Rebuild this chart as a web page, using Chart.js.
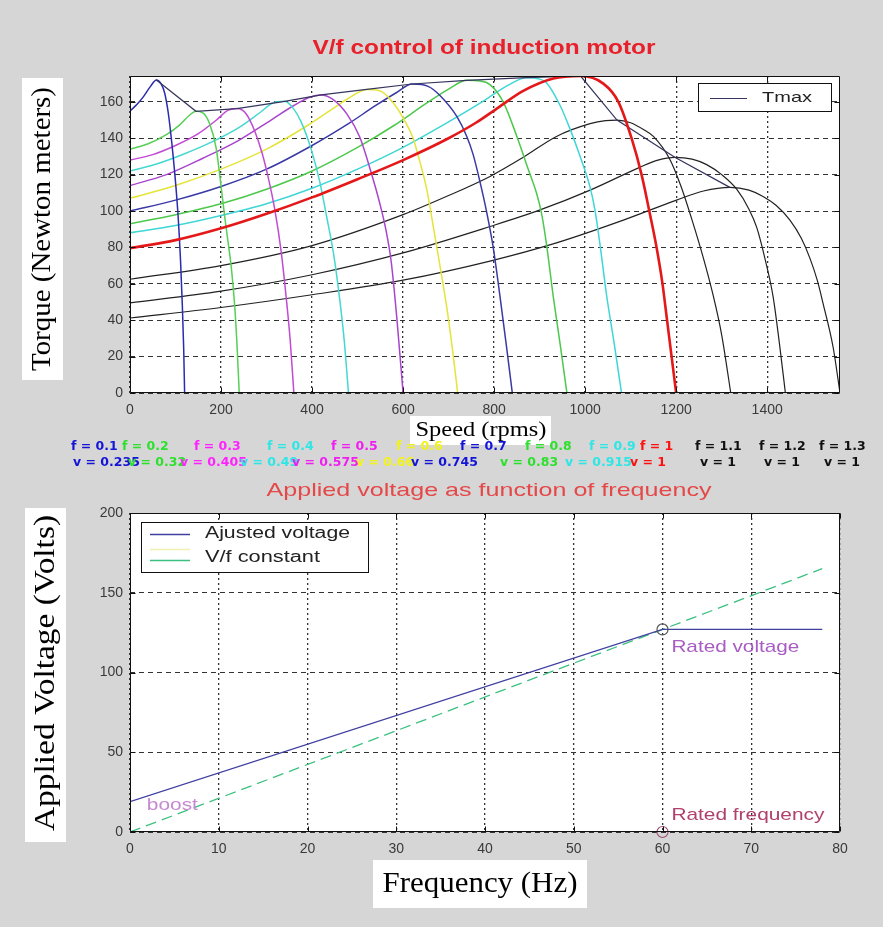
<!DOCTYPE html>
<html>
<head>
<meta charset="utf-8">
<script src="https://cdn.jsdelivr.net/npm/chart.js@4.4.1/dist/chart.umd.min.js"></script>
<style>
  html, body { margin: 0; padding: 0; background: #d6d6d6; }
  #wrap { position: relative; width: 883px; height: 927px; overflow: hidden; background: #d6d6d6; }
  canvas { position: absolute; left: 0; }
  #torqueChart { top: 0; }
  #voltChart { top: 470px; }
</style>
</head>
<body>
<div id="wrap">
  <canvas id="torqueChart" width="883" height="470" style="width:883px;height:470px"></canvas>
  <canvas id="voltChart" width="883" height="457" style="width:883px;height:457px"></canvas>
</div>
<script>
// ---- Axis ticks ----
const speedTicks  = [0, 200, 400, 600, 800, 1000, 1200, 1400];
const torqueTicks = [0, 20, 40, 60, 80, 100, 120, 140, 160];
const freqTicks   = [0, 10, 20, 30, 40, 50, 60, 70, 80];
const voltTicks   = [0, 50, 100, 150, 200];

// ---- Per-curve annotations (frequency and voltage ratios) ----
const freqLabels = ['f = 0.1', 'f = 0.2', 'f = 0.3', 'f = 0.4', 'f = 0.5', 'f = 0.6', 'f = 0.7',
                    'f = 0.8', 'f = 0.9', 'f = 1', 'f = 1.1', 'f = 1.2', 'f = 1.3'];
const voltLabels = ['v = 0.235', 'v = 0.32', 'v = 0.405', 'v = 0.49', 'v = 0.575', 'v = 0.66', 'v = 0.745',
                    'v = 0.83', 'v = 0.915', 'v = 1', 'v = 1', 'v = 1', 'v = 1'];

// ---- Torque-speed curves: [speed (rpm), torque (N.m)] ----
const torqueF01 = [[0,155],[15,158.5],[30,163],[45,168.5],[58,172],[68,170],[76,165],[84,154],[92,137],[100,116],[106,96],[111,73],[115,48],[118,24],[120,0]];
const torqueF02 = [[0,134],[40,137],[80,142],[110,147.5],[130,152.5],[145,154.8],[160,154],[175,148],[189,135],[198,118],[208,97],[216,82],[223,68],[230,48],[235,27],[240,0]];
const torqueF03 = [[0,128],[50,131],[100,136],[150,142.5],[190,150],[215,155.3],[235,156.3],[255,153.5],[274,144],[290,132],[305,117],[318,101],[332,78],[343,53],[352,29],[360,0]];
const torqueF04 = [[0,122],[60,126],[120,131.5],[180,138],[240,146],[285,154],[315,159.5],[340,160.3],[360,156],[376,149],[398,134],[417,116],[432,97],[447,77],[461,51],[471,28],[480,0]];
const torqueF05 = [[0,114],[80,120],[160,129],[240,139],[310,150],[360,158],[395,162.5],[420,163.8],[445,161.5],[476,153.5],[505,140.5],[530,121],[549,104],[562,90],[574,72],[586,42],[600,0]];
const torqueF06 = [[0,107],[100,114],[200,123],[300,134],[390,147],[450,157],[490,163.5],[520,166.8],[550,166],[580,159],[605,149],[622,140],[637,127],[652,112],[666,92],[681,70],[696,47],[708,25],[720,0]];
const torqueF07 = [[0,100],[100,106],[200,113.5],[300,123],[400,136],[480,148],[540,158],[585,165],[620,169.8],[655,168.5],[681,163.5],[718,152],[740,141],[754,131],[769,116],[784,99],[798,80],[813,53],[826,28],[840,0]];
const torqueF08 = [[0,93],[100,98],[200,104],[300,112],[400,122],[500,135],[580,147],[650,159],[700,167],[740,171.8],[770,171.5],[791,169.5],[820,160],[850,141],[875,123],[893,110],[904,99],[915,82],[930,53],[945,27],[960,0]];
const torqueF09 = [[0,88],[100,92],[200,97.5],[300,104],[400,112.5],[500,123],[600,135],[700,149],[780,161],[830,169],[870,173.3],[900,172.5],[915,170.5],[945,158],[967,145],[989,130],[1011,113],[1022,100],[1033,81],[1047,54],[1064,27],[1080,0]];
const torqueF10 = [[0,79.6],[100,84],[200,90.5],[300,98.5],[400,107.5],[500,117.5],[600,128],[700,140],[760,148.5],[810,157],[864,166],[930,172.8],[990,174.2],[1040,170],[1073,160],[1102,140],[1124,120],[1141,100],[1157,80],[1170,60],[1180,40],[1190,20],[1200,0]];
const torqueF11 = [[0,62.5],[200,70],[400,81],[600,98],[700,108.5],[791,119],[864,129.5],[937,141],[1011,148],[1045,149.7],[1070,150],[1100,148.5],[1130,144.5],[1150,141],[1186,128.5],[1210,114],[1235,95],[1260,74],[1280,55],[1300,32],[1320,0]];
const torqueF12 = [[0,49.5],[200,56],[400,65],[600,77],[791,91.5],[901,100.6],[1011,111.5],[1120,124],[1160,128],[1197,129.5],[1235,128.5],[1267,125.5],[1300,120],[1333,112],[1360,101],[1377,91],[1395,74],[1413,53],[1427,27],[1440,0]];
const torqueF13 = [[0,41.2],[200,47],[400,54],[600,62],[791,72.5],[937,82.5],[1084,95],[1201,106],[1260,111],[1318,113],[1360,111.5],[1391,108],[1420,103],[1450,95],[1475,85],[1494,74],[1510,62],[1523,49],[1545,25],[1560,0]];
// Breakdown (maximum) torque of each curve
const torqueMax = [[58,172],[145,154.8],[235,156.3],[340,160.3],[420,163.8],[520,166.8],[620,169.8],[740,171.8],[870,173.3],[990,174.2],[1070,150],[1197,129.5],[1318,113]];

const curveColors = ['#2b2bb0', '#55d055', '#c24ad4', '#44d8d0', '#a845cc', '#e4e43a', '#3a3aa6',
                     '#4cc84c', '#3ed6d6', '#e41818', '#222222', '#222222', '#222222'];
const labelColors = ['#1414d8', '#2ee02e', '#ff22ff', '#2ee6e6', '#f01ef0', '#f2f21c', '#1414d8',
                     '#2ee02e', '#2ee6e6', '#ff1010', '#101010', '#101010', '#101010'];

// ---- Applied voltage vs frequency ----
const adjFreqHz = [0, 60, 78];
const adjVolts  = [19.05, 127, 127];
const vfFreqHz  = [0, 78];
const vfVolts   = [0, 165.1];
const ratedFreqHz = 60;
const ratedVolts  = 127;

const SANS = '"Liberation Sans", Arial, sans-serif';
const SERIF = '"Liberation Serif", "Times New Roman", serif';
const BOLDSANS = '"DejaVu Sans", sans-serif';

function pairs(arr) { return arr.map(p => ({ x: p[0], y: p[1] })); }

// Text helper: draws text, optionally stretched/compressed to a given width
function drawText(ctx, text, x, y, o) {
  ctx.save();
  ctx.font = o.font;
  ctx.fillStyle = o.color || '#000';
  ctx.textBaseline = 'middle';
  ctx.textAlign = o.align || 'left';
  const w = ctx.measureText(text).width;
  const sx = o.width ? o.width / w : 1;
  ctx.translate(x, y);
  if (o.rotate) ctx.rotate(o.rotate);
  ctx.scale(sx, 1);
  ctx.fillText(text, 0, 0);
  ctx.restore();
}

function whiteBox(ctx, x, y, w, h) {
  ctx.save();
  ctx.fillStyle = '#ffffff';
  ctx.fillRect(x, y, w, h);
  ctx.restore();
}

// Axes box with inward tick marks on all four sides
function drawFrame(ctx, a, xs, ys, xt, yt) {
  ctx.save();
  ctx.strokeStyle = '#111';
  ctx.lineWidth = 1;
  const L = Math.round(a.left) + 0.5, R = Math.round(a.right) - 0.5;
  const T = Math.round(a.top) + 0.5, B = Math.round(a.bottom) - 0.5;
  ctx.beginPath();
  ctx.rect(L, T, R - L, B - T);
  xt.forEach(v => {
    const px = Math.round(xs.getPixelForValue(v)) + 0.5;
    ctx.moveTo(px, B); ctx.lineTo(px, B - 5);
    ctx.moveTo(px, T); ctx.lineTo(px, T + 5);
  });
  yt.forEach(v => {
    const py = Math.round(ys.getPixelForValue(v)) + 0.5;
    ctx.moveTo(L, py); ctx.lineTo(L + 5, py);
    ctx.moveTo(R, py); ctx.lineTo(R - 5, py);
  });
  ctx.stroke();
  ctx.restore();
}

function plotBackground(chart) {
  const { ctx, chartArea: a } = chart;
  ctx.save();
  ctx.fillStyle = '#ffffff';
  ctx.fillRect(a.left, a.top, a.right - a.left, a.bottom - a.top);
  ctx.restore();
}

const tickFont = { family: SANS, size: 14 };
const tickColor = '#3a3a3a';
const plainNumber = v => String(v);

function fixedTicks(list) {
  return function (axis) { axis.ticks = list.map(v => ({ value: v })); };
}

// ================= Torque vs speed =================
const torqueCurves = [torqueF01, torqueF02, torqueF03, torqueF04, torqueF05, torqueF06, torqueF07,
                      torqueF08, torqueF09, torqueF10, torqueF11, torqueF12, torqueF13];

const torqueDatasets = torqueCurves.map((c, i) => ({
  label: freqLabels[i],
  data: pairs(c),
  showLine: true,
  pointRadius: 0,
  borderColor: curveColors[i],
  borderWidth: i === 9 ? 2.6 : (i >= 10 ? 1.2 : 1.5),
  cubicInterpolationMode: 'monotone',
  order: i === 9 ? 0 : 2
}));
torqueDatasets.push({
  label: 'Tmax',
  data: pairs(torqueMax),
  showLine: true,
  pointRadius: 0,
  borderColor: '#35355e',
  borderWidth: 1.2,
  tension: 0,
  order: 1
});

const torqueDecor = {
  id: 'torqueDecor',
  beforeDraw: plotBackground,
  afterDraw(chart) {
    const { ctx, chartArea: a, scales } = chart;
    drawFrame(ctx, a, scales.x, scales.y, speedTicks, torqueTicks);

    // Legend box
    ctx.save();
    ctx.fillStyle = '#fff';
    ctx.fillRect(698, 83, 134, 29);
    ctx.strokeStyle = '#111';
    ctx.lineWidth = 1;
    ctx.strokeRect(698.5, 83.5, 133, 28);
    ctx.strokeStyle = '#35355e';
    ctx.lineWidth = 1.2;
    ctx.beginPath(); ctx.moveTo(710, 98.5); ctx.lineTo(747, 98.5); ctx.stroke();
    ctx.restore();
    drawText(ctx, 'Tmax', 762, 98, { font: '15px ' + SANS, color: '#222', width: 50 });

    // Title
    drawText(ctx, 'V/f control of induction motor', 484, 48,
             { font: 'bold 20px ' + SANS, color: '#e8202a', align: 'center', width: 343 });

    // Axis titles on white patches
    whiteBox(ctx, 22, 78, 41, 302);
    drawText(ctx, 'Torque (Newton meters)', 43, 229,
             { font: '28px ' + SERIF, color: '#000', align: 'center', rotate: -Math.PI / 2, width: 284 });
    whiteBox(ctx, 410, 416, 141, 29);
    drawText(ctx, 'Speed (rpms)', 481, 430,
             { font: '22px ' + SERIF, color: '#000', align: 'center', width: 131 });

    // Frequency / voltage ratio annotations
    const fLeft = [71, 122, 194, 267, 331, 396, 460, 525, 589, 640, 695, 759, 819];
    const vLeft = [73, 128, 180, 240, 292, 356, 411, 500, 565, 630, 700, 764, 824];
    for (let i = 0; i < freqLabels.length; i++) {
      drawText(ctx, freqLabels[i], fLeft[i], 447, { font: 'bold 12.5px ' + BOLDSANS, color: labelColors[i] });
    }
    for (let i = 0; i < voltLabels.length; i++) {
      drawText(ctx, voltLabels[i], vLeft[i], 463, { font: 'bold 12.5px ' + BOLDSANS, color: labelColors[i] });
    }
  }
};

new Chart(document.getElementById('torqueChart'), {
  type: 'scatter',
  data: { datasets: torqueDatasets },
  options: {
    responsive: false,
    animation: false,
    devicePixelRatio: 1,
    layout: { padding: { left: 0, right: 43, top: 76, bottom: 0 } },
    plugins: { legend: { display: false }, title: { display: false }, tooltip: { enabled: false } },
    scales: {
      x: {
        type: 'linear', min: 0, max: 1560,
        afterFit(s) { s.height = 77; },
        afterBuildTicks: fixedTicks(speedTicks),
        ticks: { font: tickFont, color: tickColor, padding: 9, maxRotation: 0, autoSkip: false, callback: plainNumber },
        grid: { color: '#333', lineWidth: 1.3, drawTicks: false },
        border: { display: false, dash: [2, 3] }
      },
      y: {
        type: 'linear', min: 0, max: 174.2,
        afterFit(s) { s.width = 130; },
        afterBuildTicks: fixedTicks(torqueTicks),
        ticks: { font: tickFont, color: tickColor, padding: 7, callback: plainNumber },
        grid: { color: '#333', lineWidth: 1, drawTicks: false },
        border: { display: false, dash: [5, 4] }
      }
    }
  },
  plugins: [torqueDecor]
});

// ================= Voltage vs frequency =================
const voltDecor = {
  id: 'voltDecor',
  beforeDraw: plotBackground,
  afterDraw(chart) {
    const { ctx, chartArea: a, scales } = chart;
    drawFrame(ctx, a, scales.x, scales.y, freqTicks, voltTicks);
    const xs = scales.x, ys = scales.y;

    // Title
    drawText(ctx, 'Applied voltage as function of frequency', 489, 21,
             { font: '19px ' + SANS, color: '#e44848', align: 'center', width: 445 });

    // Legend
    ctx.save();
    ctx.fillStyle = '#fff';
    ctx.fillRect(141, 52, 228, 51);
    ctx.strokeStyle = '#111';
    ctx.lineWidth = 1;
    ctx.strokeRect(141.5, 52.5, 227, 50);
    ctx.lineWidth = 1.3;
    ctx.strokeStyle = '#4040a0';
    ctx.beginPath(); ctx.moveTo(150, 64.5); ctx.lineTo(190, 64.5); ctx.stroke();
    ctx.strokeStyle = '#f0f0b0';
    ctx.beginPath(); ctx.moveTo(150, 79.5); ctx.lineTo(190, 79.5); ctx.stroke();
    ctx.strokeStyle = '#3cc080';
    ctx.beginPath(); ctx.moveTo(150, 90.5); ctx.lineTo(190, 90.5); ctx.stroke();
    ctx.restore();
    drawText(ctx, 'Ajusted voltage', 205, 64, { font: '16px ' + SANS, color: '#222', width: 145 });
    drawText(ctx, 'V/f constant', 205, 88, { font: '16px ' + SANS, color: '#222', width: 115 });

    // Point annotations in data coordinates
    drawText(ctx, 'Rated voltage', xs.getPixelForValue(61), ys.getPixelForValue(116),
             { font: '17px ' + SANS, color: '#a85cc4', width: 128 });
    drawText(ctx, 'Rated frequency', xs.getPixelForValue(61), ys.getPixelForValue(10.5),
             { font: '17px ' + SANS, color: '#b0406c', width: 153 });
    drawText(ctx, 'boost', xs.getPixelForValue(1.9), ys.getPixelForValue(16.8),
             { font: '16px ' + SANS, color: '#c68ad2', width: 51 });

    // Axis titles on white patches
    whiteBox(ctx, 25, 38, 41, 334);
    drawText(ctx, 'Applied Voltage (Volts)', 46, 203,
             { font: '30px ' + SERIF, color: '#000', align: 'center', rotate: -Math.PI / 2, width: 316 });
    whiteBox(ctx, 373, 390, 214, 48);
    drawText(ctx, 'Frequency (Hz)', 480, 414,
             { font: '30px ' + SERIF, color: '#000', align: 'center', width: 195 });
  }
};

new Chart(document.getElementById('voltChart'), {
  type: 'scatter',
  data: {
    datasets: [
      {
        label: 'Ajusted voltage',
        data: adjFreqHz.map((f, i) => ({ x: f, y: adjVolts[i] })),
        showLine: true, pointRadius: 0, borderColor: '#4040a0', borderWidth: 1.3, tension: 0, order: 1
      },
      {
        label: 'V/f constant',
        data: vfFreqHz.map((f, i) => ({ x: f, y: vfVolts[i] })),
        showLine: true, pointRadius: 0, borderColor: '#3cc080', borderWidth: 1.3,
        borderDash: [11, 6], tension: 0, order: 2
      },
      {
        label: 'Rated voltage',
        data: [{ x: ratedFreqHz, y: ratedVolts }],
        showLine: false, pointRadius: 5.5, pointStyle: 'circle',
        pointBorderColor: '#555', pointBackgroundColor: 'rgba(0,0,0,0)', pointBorderWidth: 1.2, order: 0, clip: false
      },
      {
        label: 'Rated frequency',
        data: [{ x: ratedFreqHz, y: 0 }],
        showLine: false, pointRadius: 5.5, pointStyle: 'circle',
        pointBorderColor: '#9a5070', pointBackgroundColor: 'rgba(0,0,0,0)', pointBorderWidth: 1.2, order: 0, clip: false
      }
    ]
  },
  options: {
    responsive: false,
    animation: false,
    devicePixelRatio: 1,
    layout: { padding: { left: 0, right: 43, top: 43, bottom: 0 } },
    plugins: { legend: { display: false }, title: { display: false }, tooltip: { enabled: false } },
    scales: {
      x: {
        type: 'linear', min: 0, max: 80,
        afterFit(s) { s.height = 95; },
        afterBuildTicks: fixedTicks(freqTicks),
        ticks: { font: tickFont, color: tickColor, padding: 9, maxRotation: 0, autoSkip: false, callback: plainNumber },
        grid: { color: '#333', lineWidth: 1.3, drawTicks: false },
        border: { display: false, dash: [2, 3] }
      },
      y: {
        type: 'linear', min: 0, max: 200,
        afterFit(s) { s.width = 130; },
        afterBuildTicks: fixedTicks(voltTicks),
        ticks: { font: tickFont, color: tickColor, padding: 7, callback: plainNumber },
        grid: { color: '#333', lineWidth: 1, drawTicks: false },
        border: { display: false, dash: [5, 4] }
      }
    }
  },
  plugins: [voltDecor]
});
</script>
</body>
</html>
